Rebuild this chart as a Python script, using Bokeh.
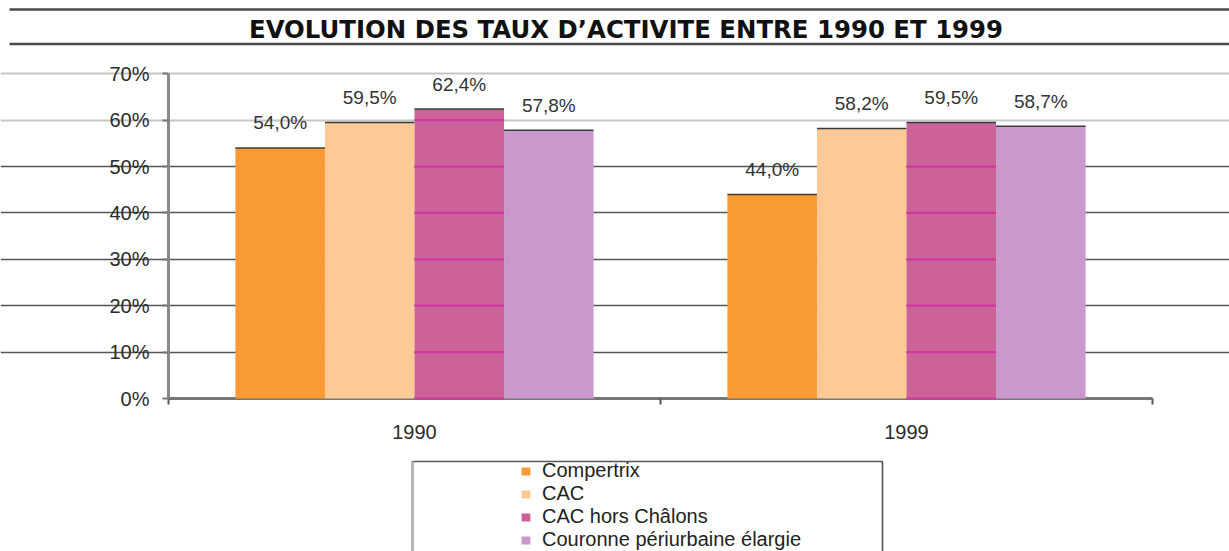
from bokeh.plotting import figure
from bokeh.models import (ColumnDataSource, FixedTicker, Legend, LegendItem, Label,
                          Grid, Range1d)
from bokeh.core.properties import value
from bokeh.embed import file_html
from bokeh.resources import INLINE

# ---------------- data ----------------
years = ["1990", "1999"]
series = ["Compertrix", "CAC", "CAC hors Châlons", "Couronne périurbaine élargie"]
compertrix = [54.0, 44.0]
cac = [59.5, 58.2]
cac_hors_chalons = [62.4, 59.5]
couronne = [57.8, 58.7]
y_ticks = [0, 10, 20, 30, 40, 50, 60, 70]
title_text = "EVOLUTION DES TAUX D\u2019ACTIVITE ENTRE 1990 ET 1999"

values = [compertrix, cac, cac_hors_chalons, couronne]
colors = ["#fa9a35", "#fdca97", "#cb6398", "#cb98cb"]

# ---------------- geometry ----------------
W, H = 1229, 551
PX_X = 492.0      # px per category
PX_Y = 4.639      # px per percent
X0 = 168          # canvas x of category axis start
Y0 = 398          # canvas y of 0 %
Y_TOP = Y0 / PX_Y
X_END = (W - X0) / PX_X
FONT = "Liberation Sans"

p = figure(width=W, height=H, output_backend="svg", toolbar_location=None,
           x_range=Range1d(-X0 / PX_X, X_END),
           y_range=Range1d(-(H - Y0) / PX_Y, Y_TOP),
           min_border=0)
p.outline_line_color = None
p.background_fill_color = "white"
p.border_fill_color = "white"

# ---------------- axes ----------------
n = len(years)
p.xaxis.fixed_location = 0
p.xaxis.ticker = FixedTicker(ticks=[i + 0.5 for i in range(n)],
                             minor_ticks=[float(i) for i in range(n + 1)])
p.xaxis.major_label_overrides = {i + 0.5: y for i, y in enumerate(years)}
p.xaxis.bounds = (0, n)
p.xaxis.major_tick_line_color = None
p.xaxis.minor_tick_line_color = "#555"
p.xaxis.minor_tick_line_width = 2
p.xaxis.minor_tick_out = 6
p.xaxis.minor_tick_in = 0
p.xaxis.axis_line_color = "#777"
p.xaxis.axis_line_width = 3
p.xaxis.major_label_text_font = FONT
p.xaxis.major_label_text_font_size = "20px"
p.xaxis.major_label_text_color = "#2b2b2b"
p.xaxis.major_label_standoff = 20
p.xaxis.level = "underlay"

p.yaxis.fixed_location = 0
p.yaxis.ticker = FixedTicker(ticks=y_ticks)
p.yaxis.major_label_overrides = {t: f"{t}%" for t in y_ticks}
p.yaxis.bounds = (y_ticks[0], y_ticks[-1])
p.yaxis.axis_line_color = "#8a8a8a"
p.yaxis.axis_line_width = 3
p.yaxis.major_tick_line_color = "#777"
p.yaxis.major_tick_line_width = 2
p.yaxis.major_tick_out = 6
p.yaxis.major_tick_in = 0
p.yaxis.major_label_text_font = FONT
p.yaxis.major_label_text_font_size = "20px"
p.yaxis.major_label_text_color = "#2b2b2b"
p.yaxis.major_label_standoff = 13

# ---------------- grids ----------------
p.xgrid.visible = False
p.ygrid.ticker = FixedTicker(ticks=[t for t in y_ticks if 0 < t <= 50])
p.ygrid.grid_line_color = "#555"
p.ygrid.grid_line_width = 1.6
p.ygrid.bounds = (0, n)
upper_grid = Grid(dimension=1, ticker=FixedTicker(ticks=[t for t in y_ticks if t > 50]),
                  grid_line_color="#c6c6c6", grid_line_width=2.2, bounds=(0, n))
p.add_layout(upper_grid)

# ---------------- bars ----------------
bar_w = 0.182
centers = [i + 0.5 for i in range(n)]
renderers = []
for k, (name, vals, col) in enumerate(zip(series, values, colors)):
    off = (k - (len(series) - 1) / 2) * bar_w
    xs = [c + off for c in centers]
    src = ColumnDataSource(dict(
        x=xs, top=vals,
        x0=[x - bar_w / 2 for x in xs], x1=[x + bar_w / 2 for x in xs],
        label=[f"{v:.1f}%".replace(".", ",") for v in vals]))
    r = p.vbar(x="x", top="top", width=bar_w, source=src,
               fill_color=col, line_color=None)
    renderers.append(r)
    # dark top edge of each bar
    p.segment(x0="x0", x1="x1", y0="top", y1="top", source=src,
              line_color="#3c3c3c", line_width=1.5)
    p.text(x="x", y="top", text="label", source=src, text_align="center",
           text_baseline="middle", y_offset=-25, text_font=value(FONT),
           text_font_size="19px", text_color="#333333")
    if name == "CAC hors Châlons":
        sx0, sx1, sy = [], [], []
        for x, v in zip(xs, vals):
            for t in y_ticks:
                if t < v:
                    sx0.append(x - bar_w / 2)
                    sx1.append(x + bar_w / 2)
                    sy.append(t)
        p.segment(x0=sx0, x1=sx1, y0=sy, y1=sy, line_color="#d2379f", line_width=2.2)

# ---------------- legend ----------------
box_l, box_r = (412 - X0) / PX_X, (882 - X0) / PX_X
box_t = (Y0 - 461) / PX_Y
box_b = -(H - Y0) / PX_Y - 5
p.quad(left=[box_l], right=[box_r], top=[box_t], bottom=[box_b],
       fill_color=None, line_color="#555", line_width=1.6)
p.segment(x0=[box_l], x1=[box_l], y0=[box_t], y1=[box_b], line_color="#b5b5b5", line_width=3)

legend = Legend(items=[LegendItem(label=s, renderers=[r]) for s, r in zip(series, renderers)],
                location=(520, 0), orientation="vertical", padding=0, margin=0, spacing=0,
                border_line_color=None, background_fill_alpha=0,
                glyph_width=11, glyph_height=10, label_height=22, label_standoff=11,
                label_text_font=FONT, label_text_font_size="20px", label_text_color="#222")
p.add_layout(legend)

# ---------------- title with rules above and below ----------------
rule_y = [Y_TOP - 9.0 / PX_Y, Y_TOP - 43.5 / PX_Y]
rule_x0 = (9 - X0) / PX_X
p.segment(x0=[rule_x0] * 2, x1=[X_END] * 2, y0=rule_y, y1=rule_y,
          line_color="#4a4a4a", line_width=2.6)
p.add_layout(Label(x=(625.5 - X0) / PX_X, y=Y_TOP - 28.5 / PX_Y, text=title_text,
                   text_align="center", text_baseline="middle",
                   text_font="DejaVu Sans", text_font_style="bold",
                   text_font_size="24.4px", text_color="#111"))

open("out.html", "w").write(file_html(p, INLINE))
